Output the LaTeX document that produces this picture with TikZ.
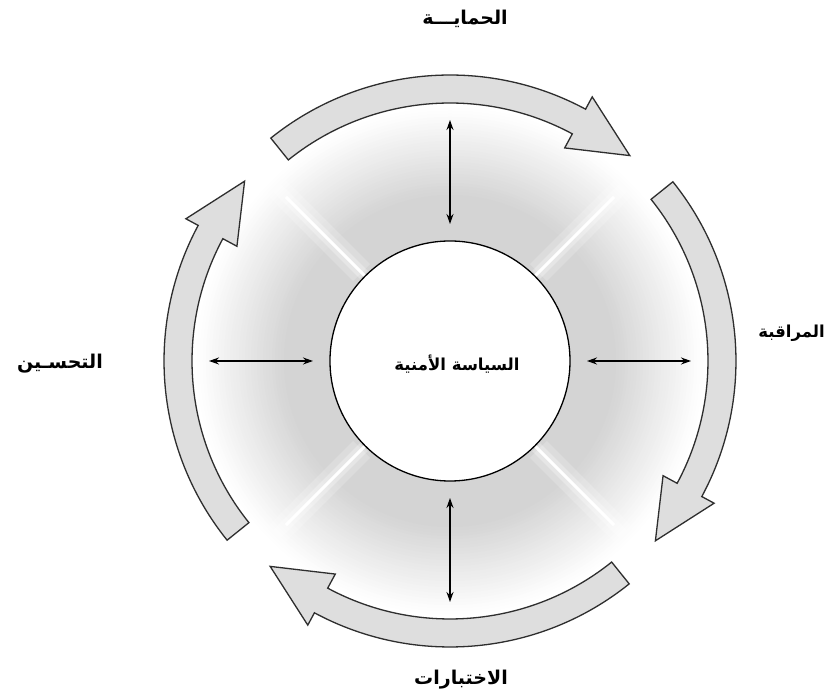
\documentclass[tikz,border=0pt]{standalone}
\usepackage{fontspec}
\usetikzlibrary{arrows.meta}
\TeXXeTstate=1
\newfontfamily\arabicfont[Script=Arabic]{DejaVu Sans}

\tikzset{
  cyclearrow/.style={fill=black!13, draw=black!82, line width=1.3pt, line join=miter},
  linkarrow/.style={{Stealth[length=10pt,width=7pt]}-{Stealth[length=10pt,width=7pt]}, line width=1.5pt},
  phaselabel/.style={font=\arabicfont\bfseries\fontsize{19}{22}\selectfont, inner sep=1pt},
  sidelabel/.style={font=\arabicfont\bfseries\fontsize{16.5}{20}\selectfont, inner sep=1pt},
  corelabel/.style={font=\arabicfont\bfseries\fontsize{16.5}{20}\selectfont, inner sep=1pt},
  separator/.style={white, line width=3pt}
}

\begin{document}
\begin{tikzpicture}[x=1pt,y=1pt]
  \useasboundingbox (-450,-339) rectangle (378,361);
  \fill[white] (-450,-339) rectangle (378,361);

  % grey ring fading outwards, built from concentric discs
  \foreach \r in {262,259,...,118} {
    \pgfmathsetmacro\g{\r<165 ? 17 : max(0, 17*(254-\r)/89)}
    \fill[black!\g] (0,0) circle[radius=\r];
  }

  % four white separators with a soft halo
  \foreach \a in {45,135,225,315} {
    \draw[white, line width=24pt, opacity=0.2] (\a:125) -- (\a:250);
    \draw[white, line width=11pt, opacity=0.3] (\a:122) -- (\a:245);
    \draw[separator] (\a:118) -- (\a:232);
  }

  % central policy circle
  \node[circle, draw, line width=1.3pt, fill=white, minimum size=240pt, inner sep=0pt] (core) at (0,0) {};
  \node[corelabel] (policy) at (7,-3) {\beginR السياسة الأمنية\endR};

  % four curved arrows running clockwise
  \foreach \k in {0,1,2,3} {
    \pgfmathsetmacro\ta{128.8-90*\k}
    \pgfmathsetmacro\hb{\ta-67.1}
    \pgfmathsetmacro\tp{\ta-80}
    \draw[cyclearrow] (\ta:286) arc[start angle=\ta, end angle=\hb, radius=286]
      -- (\hb:300) -- (\tp:273) -- (\hb:242) -- (\hb:258)
      arc[start angle=\hb, end angle=\ta, radius=258] -- cycle;
  }

  % links between the policy and each phase
  \foreach \a/\n in {90/n, 0/e, 270/s, 180/w} {
    \coordinate (in\n) at (\a:137);
    \coordinate (out\n) at (\a:241);
  }
  \draw[linkarrow] (inn) -- (outn);
  \draw[linkarrow] (ine) -- (oute);
  \draw[linkarrow] (ins) -- (outs);
  \draw[linkarrow] (inw) -- (outw);

  % phase labels
  \node[phaselabel] (protect) at (15,342) {\beginR الحمايـــة\endR};
  \node[sidelabel, anchor=east] (monitor) at (376,28) {\beginR المراقبة\endR};
  \node[phaselabel] (tests) at (11,-319) {\beginR الاختبارات\endR};
  \node[phaselabel] (improve) at (-390,-3) {\beginR التحسـين\endR};
\end{tikzpicture}
\end{document}
